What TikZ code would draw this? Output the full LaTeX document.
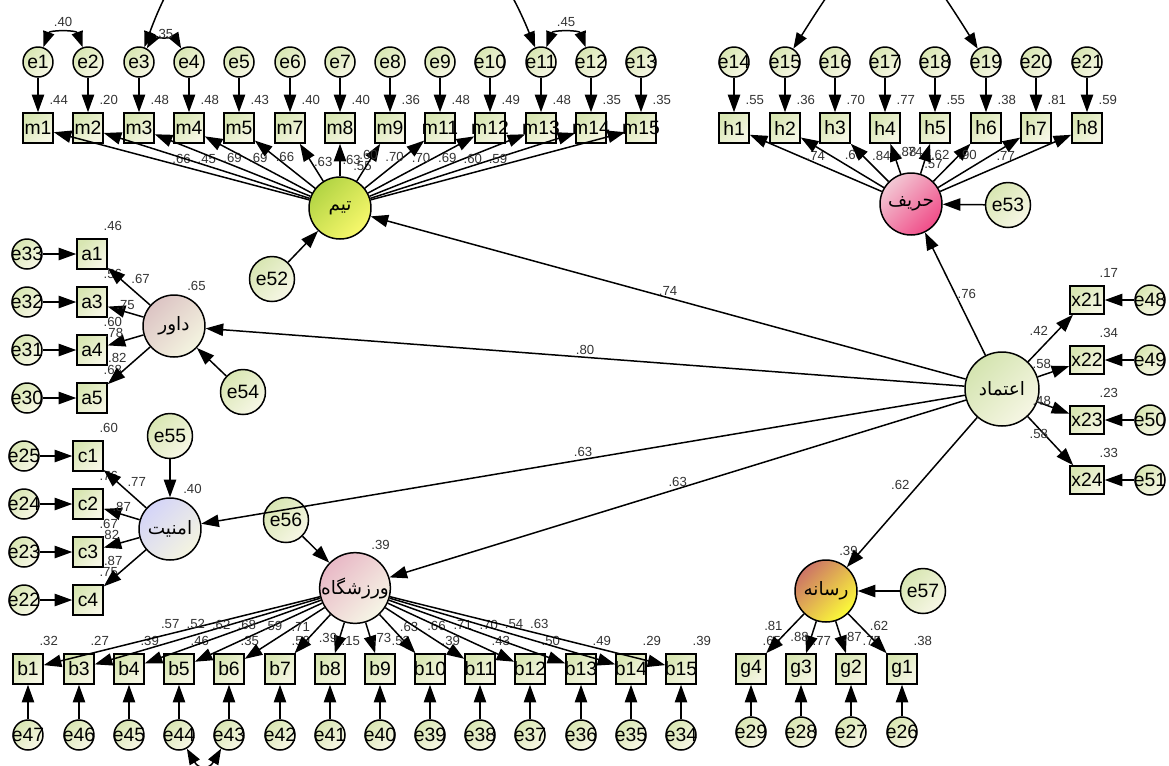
\documentclass[tikz,border=0pt]{standalone}
\usepackage{fontspec}
\setmainfont{Liberation Sans}
\newfontfamily\arabicfont[Script=Arabic]{DejaVu Sans}
\TeXXeTstate=1
\usetikzlibrary{arrows.meta}

\definecolor{obsa}{HTML}{D8E6B2}
\definecolor{obsb}{HTML}{F7F7E6}
\definecolor{teama}{HTML}{B2D444}
\definecolor{teamb}{HTML}{F8F86C}
\definecolor{rivala}{HTML}{F2C8D4}
\definecolor{rivalb}{HTML}{F04C88}
\definecolor{refa}{HTML}{DCC4C4}
\definecolor{refb}{HTML}{F4F4E0}
\definecolor{seca}{HTML}{D4D4F8}
\definecolor{secb}{HTML}{F4F4E0}
\definecolor{stada}{HTML}{E8B8C6}
\definecolor{stadb}{HTML}{F6F6E6}
\definecolor{mediaa}{HTML}{CC7466}
\definecolor{mediab}{HTML}{FCFC38}
\definecolor{trusta}{HTML}{D4E4B0}
\definecolor{trustb}{HTML}{F6F6E4}

\newcommand{\boxtxt}[1]{\makebox[0pt]{#1}}

\tikzset{
  obs/.style={rectangle, draw, line width=0.85pt, minimum width=0.6cm, minimum height=0.6cm,
    inner sep=0pt, top color=obsa, bottom color=obsb, shading angle=45},
  xobs/.style={obs, minimum width=0.68cm, minimum height=0.56cm},
  err/.style={circle, draw, line width=0.85pt, minimum size=0.6cm, inner sep=0pt,
    top color=obsa, bottom color=obsb, shading angle=45},
  bigerr/.style={err, minimum size=0.9cm},
  lat/.style={circle, draw, line width=0.85pt, minimum size=1.24cm, inner sep=0pt,
    font=\arabicfont\fontsize{10.5}{12}\selectfont},
  lbl/.style={font=\fontsize{7.5}{9}\selectfont, inner sep=1pt, text=black!80},
  arr/.style={-{Triangle[length=10pt,width=7pt]}, line width=0.85pt},
  cov/.style={{Triangle[length=9pt,width=6.5pt]}-{Triangle[length=9pt,width=6.5pt]}, line width=0.85pt},
}

\begin{document}
\begin{tikzpicture}[x=0.02cm, y=-0.02cm, font=\fontsize{11}{13}\selectfont]
      \useasboundingbox (0,0) rectangle (1169,765);
      \clip (0,0) rectangle (1169,765);

      % Define nodes
      \node[lat, top color=teama, bottom color=teamb, shading angle=45] (team) at (340,208) {\beginR تیم\endR};
      \node[lat, top color=rivala, bottom color=rivalb, shading angle=45] (rival) at (911,204) {\beginR حریف\endR};
      \node[lat, top color=refa, bottom color=refb, shading angle=45] (referee) at (174,326) {\beginR داور\endR};
      \node[lat, top color=seca, bottom color=secb, shading angle=45] (security) at (170,529) {\beginR امنیت\endR};
      \node[lat, top color=stada, bottom color=stadb, shading angle=45] (stadium) at (355,588) {\beginR ورزشگاه\endR};
      \node[lat, top color=mediaa, bottom color=mediab, shading angle=45] (media) at (826,591) {\beginR رسانه\endR};
      \node[lat, minimum size=1.48cm, top color=trusta, bottom color=trustb, shading angle=45] (trust) at (1002,389) {\beginR اعتماد\endR};

      \node[bigerr] (e52) at (272,279) {e52};
      \node[bigerr] (e53) at (1008,205) {e53};
      \node[bigerr] (e54) at (243,392) {e54};
      \node[bigerr] (e55) at (170,436) {e55};
      \node[bigerr] (e56) at (286,520) {e56};
      \node[bigerr] (e57) at (923,591) {e57};

      % team indicators
      \node[obs] (m1) at (38,128) {\boxtxt{m1}};
      \node[obs] (m2) at (88,128) {\boxtxt{m2}};
      \node[obs] (m3) at (139,128) {\boxtxt{m3}};
      \node[obs] (m4) at (189,128) {\boxtxt{m4}};
      \node[obs] (m5) at (239,128) {\boxtxt{m5}};
      \node[obs] (m7) at (290,128) {\boxtxt{m7}};
      \node[obs] (m8) at (340,128) {\boxtxt{m8}};
      \node[obs] (m9) at (390,128) {\boxtxt{m9}};
      \node[obs] (m11) at (440,128) {\boxtxt{m11}};
      \node[obs] (m12) at (490,128) {\boxtxt{m12}};
      \node[obs] (m13) at (541,128) {\boxtxt{m13}};
      \node[obs] (m14) at (591,128) {\boxtxt{m14}};
      \node[obs] (m15) at (641,128) {\boxtxt{m15}};
      \node[err] (e1) at (38,62) {\boxtxt{e1}};
      \node[err] (e2) at (88,62) {\boxtxt{e2}};
      \node[err] (e3) at (139,62) {\boxtxt{e3}};
      \node[err] (e4) at (189,62) {\boxtxt{e4}};
      \node[err] (e5) at (239,62) {\boxtxt{e5}};
      \node[err] (e6) at (290,62) {\boxtxt{e6}};
      \node[err] (e7) at (340,62) {\boxtxt{e7}};
      \node[err] (e8) at (390,62) {\boxtxt{e8}};
      \node[err] (e9) at (440,62) {\boxtxt{e9}};
      \node[err] (e10) at (490,62) {\boxtxt{e10}};
      \node[err] (e11) at (541,62) {\boxtxt{e11}};
      \node[err] (e12) at (591,62) {\boxtxt{e12}};
      \node[err] (e13) at (641,62) {\boxtxt{e13}};

      % rival indicators
      \node[obs] (h1) at (734,128) {\boxtxt{h1}};
      \node[obs] (h2) at (785,128) {\boxtxt{h2}};
      \node[obs] (h3) at (835,128) {\boxtxt{h3}};
      \node[obs] (h4) at (885,128) {\boxtxt{h4}};
      \node[obs] (h5) at (935,128) {\boxtxt{h5}};
      \node[obs] (h6) at (986,128) {\boxtxt{h6}};
      \node[obs] (h7) at (1036,128) {\boxtxt{h7}};
      \node[obs] (h8) at (1087,128) {\boxtxt{h8}};
      \node[err] (e14) at (734,62) {\boxtxt{e14}};
      \node[err] (e15) at (785,62) {\boxtxt{e15}};
      \node[err] (e16) at (835,62) {\boxtxt{e16}};
      \node[err] (e17) at (885,62) {\boxtxt{e17}};
      \node[err] (e18) at (935,62) {\boxtxt{e18}};
      \node[err] (e19) at (986,62) {\boxtxt{e19}};
      \node[err] (e20) at (1036,62) {\boxtxt{e20}};
      \node[err] (e21) at (1087,62) {\boxtxt{e21}};

      % referee indicators
      \node[obs] (a1) at (92,254) {\boxtxt{a1}};
      \node[obs] (a3) at (92,302) {\boxtxt{a3}};
      \node[obs] (a4) at (92,350) {\boxtxt{a4}};
      \node[obs] (a5) at (92,398) {\boxtxt{a5}};
      \node[err] (e33) at (27,254) {\boxtxt{e33}};
      \node[err] (e32) at (27,302) {\boxtxt{e32}};
      \node[err] (e31) at (27,350) {\boxtxt{e31}};
      \node[err] (e30) at (27,398) {\boxtxt{e30}};

      % security indicators
      \node[obs] (c1) at (88,456) {\boxtxt{c1}};
      \node[obs] (c2) at (88,504) {\boxtxt{c2}};
      \node[obs] (c3) at (88,552) {\boxtxt{c3}};
      \node[obs] (c4) at (88,600) {\boxtxt{c4}};
      \node[err] (e25) at (24,456) {\boxtxt{e25}};
      \node[err] (e24) at (24,504) {\boxtxt{e24}};
      \node[err] (e23) at (24,552) {\boxtxt{e23}};
      \node[err] (e22) at (24,600) {\boxtxt{e22}};

      % stadium indicators
      \node[obs] (b1) at (28,669) {\boxtxt{b1}};
      \node[obs] (b3) at (79,669) {\boxtxt{b3}};
      \node[obs] (b4) at (129,669) {\boxtxt{b4}};
      \node[obs] (b5) at (179,669) {\boxtxt{b5}};
      \node[obs] (b6) at (229,669) {\boxtxt{b6}};
      \node[obs] (b7) at (280,669) {\boxtxt{b7}};
      \node[obs] (b8) at (330,669) {\boxtxt{b8}};
      \node[obs] (b9) at (380,669) {\boxtxt{b9}};
      \node[obs] (b10) at (430,669) {\boxtxt{b10}};
      \node[obs] (b11) at (480,669) {\boxtxt{b11}};
      \node[obs] (b12) at (530,669) {\boxtxt{b12}};
      \node[obs] (b13) at (581,669) {\boxtxt{b13}};
      \node[obs] (b14) at (631,669) {\boxtxt{b14}};
      \node[obs] (b15) at (681,669) {\boxtxt{b15}};
      \node[err] (e47) at (28,735) {\boxtxt{e47}};
      \node[err] (e46) at (79,735) {\boxtxt{e46}};
      \node[err] (e45) at (129,735) {\boxtxt{e45}};
      \node[err] (e44) at (179,735) {\boxtxt{e44}};
      \node[err] (e43) at (229,735) {\boxtxt{e43}};
      \node[err] (e42) at (280,735) {\boxtxt{e42}};
      \node[err] (e41) at (330,735) {\boxtxt{e41}};
      \node[err] (e40) at (380,735) {\boxtxt{e40}};
      \node[err] (e39) at (430,735) {\boxtxt{e39}};
      \node[err] (e38) at (480,735) {\boxtxt{e38}};
      \node[err] (e37) at (530,735) {\boxtxt{e37}};
      \node[err] (e36) at (581,735) {\boxtxt{e36}};
      \node[err] (e35) at (631,735) {\boxtxt{e35}};
      \node[err] (e34) at (681,735) {\boxtxt{e34}};

      % media indicators
      \node[obs] (g4) at (751,669) {\boxtxt{g4}};
      \node[obs] (g3) at (801,669) {\boxtxt{g3}};
      \node[obs] (g2) at (851,669) {\boxtxt{g2}};
      \node[obs] (g1) at (902,669) {\boxtxt{g1}};
      \node[err] (e29) at (751,732) {\boxtxt{e29}};
      \node[err] (e28) at (801,732) {\boxtxt{e28}};
      \node[err] (e27) at (851,732) {\boxtxt{e27}};
      \node[err] (e26) at (902,732) {\boxtxt{e26}};

      % trust indicators
      \node[xobs] (x21) at (1087,300) {\boxtxt{x21}};
      \node[xobs] (x22) at (1087,360) {\boxtxt{x22}};
      \node[xobs] (x23) at (1087,420) {\boxtxt{x23}};
      \node[xobs] (x24) at (1087,480) {\boxtxt{x24}};
      \node[err] (e48) at (1150,300) {\boxtxt{e48}};
      \node[err] (e49) at (1150,360) {\boxtxt{e49}};
      \node[err] (e50) at (1150,420) {\boxtxt{e50}};
      \node[err] (e51) at (1150,480) {\boxtxt{e51}};

      % Squared multiple correlations
      \node[lbl] (q-team) at ([shift={(0,-20)}]team.north east) {.55};
      \node[lbl] (q-rival) at ([shift={(0,-18)}]rival.north east) {.57};
      \node[lbl] (q-referee) at ([shift={(0,-18)}]referee.north east) {.65};
      \node[lbl] (q-security) at ([shift={(0,-18)}]security.north east) {.40};
      \node[lbl] (q-stadium) at ([shift={(0,-18)}]stadium.north east) {.39};
      \node[lbl] (q-media) at ([shift={(0,-18)}]media.north east) {.39};
      \node[lbl] (q-m1) at ([shift={(5,-12)}]m1.north east) {.44};
      \node[lbl] (q-m2) at ([shift={(5,-12)}]m2.north east) {.20};
      \node[lbl] (q-m3) at ([shift={(5,-12)}]m3.north east) {.48};
      \node[lbl] (q-m4) at ([shift={(5,-12)}]m4.north east) {.48};
      \node[lbl] (q-m5) at ([shift={(5,-12)}]m5.north east) {.43};
      \node[lbl] (q-m7) at ([shift={(5,-12)}]m7.north east) {.40};
      \node[lbl] (q-m8) at ([shift={(5,-12)}]m8.north east) {.40};
      \node[lbl] (q-m9) at ([shift={(5,-12)}]m9.north east) {.36};
      \node[lbl] (q-m11) at ([shift={(5,-12)}]m11.north east) {.48};
      \node[lbl] (q-m12) at ([shift={(5,-12)}]m12.north east) {.49};
      \node[lbl] (q-m13) at ([shift={(5,-12)}]m13.north east) {.48};
      \node[lbl] (q-m14) at ([shift={(5,-12)}]m14.north east) {.35};
      \node[lbl] (q-m15) at ([shift={(5,-12)}]m15.north east) {.35};
      \node[lbl] (q-h1) at ([shift={(5,-12)}]h1.north east) {.55};
      \node[lbl] (q-h2) at ([shift={(5,-12)}]h2.north east) {.36};
      \node[lbl] (q-h3) at ([shift={(5,-12)}]h3.north east) {.70};
      \node[lbl] (q-h4) at ([shift={(5,-12)}]h4.north east) {.77};
      \node[lbl] (q-h5) at ([shift={(5,-12)}]h5.north east) {.55};
      \node[lbl] (q-h6) at ([shift={(5,-12)}]h6.north east) {.38};
      \node[lbl] (q-h7) at ([shift={(5,-12)}]h7.north east) {.81};
      \node[lbl] (q-h8) at ([shift={(5,-12)}]h8.north east) {.59};
      \node[lbl] (q-a1) at ([shift={(5,-12)}]a1.north east) {.46};
      \node[lbl] (q-a3) at ([shift={(5,-12)}]a3.north east) {.56};
      \node[lbl] (q-a4) at ([shift={(5,-12)}]a4.north east) {.60};
      \node[lbl] (q-a5) at ([shift={(5,-12)}]a5.north east) {.68};
      \node[lbl] (q-c1) at ([shift={(5,-12)}]c1.north east) {.60};
      \node[lbl] (q-c2) at ([shift={(5,-12)}]c2.north east) {.76};
      \node[lbl] (q-c3) at ([shift={(5,-12)}]c3.north east) {.67};
      \node[lbl] (q-c4) at ([shift={(5,-12)}]c4.north east) {.75};
      \node[lbl] (q-b1) at ([shift={(5,-12)}]b1.north east) {.32};
      \node[lbl] (q-b3) at ([shift={(5,-12)}]b3.north east) {.27};
      \node[lbl] (q-b4) at ([shift={(5,-12)}]b4.north east) {.39};
      \node[lbl] (q-b5) at ([shift={(5,-12)}]b5.north east) {.46};
      \node[lbl] (q-b6) at ([shift={(5,-12)}]b6.north east) {.35};
      \node[lbl] (q-b7) at ([shift={(5,-12)}]b7.north east) {.50};
      \node[lbl] (q-b8) at ([shift={(5,-12)}]b8.north east) {.15};
      \node[lbl] (q-b9) at ([shift={(5,-12)}]b9.north east) {.53};
      \node[lbl] (q-b10) at ([shift={(5,-12)}]b10.north east) {.39};
      \node[lbl] (q-b11) at ([shift={(5,-12)}]b11.north east) {.43};
      \node[lbl] (q-b12) at ([shift={(5,-12)}]b12.north east) {.50};
      \node[lbl] (q-b13) at ([shift={(5,-12)}]b13.north east) {.49};
      \node[lbl] (q-b14) at ([shift={(5,-12)}]b14.north east) {.29};
      \node[lbl] (q-b15) at ([shift={(5,-12)}]b15.north east) {.39};
      \node[lbl] (q-g4) at ([shift={(5,-12)}]g4.north east) {.65};
      \node[lbl] (q-g3) at ([shift={(5,-12)}]g3.north east) {.77};
      \node[lbl] (q-g2) at ([shift={(5,-12)}]g2.north east) {.75};
      \node[lbl] (q-g1) at ([shift={(5,-12)}]g1.north east) {.38};
      \node[lbl] (q-x21) at ([shift={(4,-12)}]x21.north east) {.17};
      \node[lbl] (q-x22) at ([shift={(4,-12)}]x22.north east) {.34};
      \node[lbl] (q-x23) at ([shift={(4,-12)}]x23.north east) {.23};
      \node[lbl] (q-x24) at ([shift={(4,-12)}]x24.north east) {.33};

      % Draw edges
      \draw[arr] (trust) -- (team) node[lbl, midway, above] {.74};
      \draw[arr] (trust) -- (referee) node[lbl, midway, above] {.80};
      \draw[arr] (trust) -- (security) node[lbl, midway, above] {.63};
      \draw[arr] (trust) -- (stadium) node[lbl, midway, above] {.63};
      \draw[arr] (trust) -- (rival) node[lbl, midway, right] {.76};
      \draw[arr] (trust) -- (media) node[lbl, midway, above left] {.62};
      \draw[arr] (e52) -- (team);
      \draw[arr] (e53) -- (rival);
      \draw[arr] (e54) -- (referee);
      \draw[arr] (e55) -- (security);
      \draw[arr] (e56) -- (stadium);
      \draw[arr] (e57) -- (media);

      \draw[arr] (team) -- (m1) node[lbl, midway, above] {.66};
      \draw[arr] (team) -- (m2) node[lbl, midway, above] {.45};
      \draw[arr] (team) -- (m3) node[lbl, midway, above] {.69};
      \draw[arr] (team) -- (m4) node[lbl, midway, above] {.69};
      \draw[arr] (team) -- (m5) node[lbl, midway, above] {.66};
      \draw[arr] (team) -- (m7) node[lbl, midway, right] {.63};
      \draw[arr] (team) -- (m8) node[lbl, midway, right] {.63};
      \draw[arr] (team) -- (m9) node[lbl, midway, above] {.60};
      \draw[arr] (team) -- (m11) node[lbl, midway, above] {.70};
      \draw[arr] (team) -- (m12) node[lbl, midway, above] {.70};
      \draw[arr] (team) -- (m13) node[lbl, midway, above] {.69};
      \draw[arr] (team) -- (m14) node[lbl, midway, above] {.60};
      \draw[arr] (team) -- (m15) node[lbl, midway, above] {.59};
      \draw[arr] (e1) -- (m1);
      \draw[arr] (e2) -- (m2);
      \draw[arr] (e3) -- (m3);
      \draw[arr] (e4) -- (m4);
      \draw[arr] (e5) -- (m5);
      \draw[arr] (e6) -- (m7);
      \draw[arr] (e7) -- (m8);
      \draw[arr] (e8) -- (m9);
      \draw[arr] (e9) -- (m11);
      \draw[arr] (e10) -- (m12);
      \draw[arr] (e11) -- (m13);
      \draw[arr] (e12) -- (m14);
      \draw[arr] (e13) -- (m15);

      \draw[arr] (rival) -- (h1) node[lbl, midway, above] {.74};
      \draw[arr] (rival) -- (h2) node[lbl, midway, above right] {.60};
      \draw[arr] (rival) -- (h3) node[lbl, midway, above right] {.84};
      \draw[arr] (rival) -- (h4) node[lbl, midway, above right] {.88};
      \draw[arr] (rival) -- (h5) node[lbl, midway, above left] {.74};
      \draw[arr] (rival) -- (h6) node[lbl, midway, above left] {.62};
      \draw[arr] (rival) -- (h7) node[lbl, midway, above left] {.90};
      \draw[arr] (rival) -- (h8) node[lbl, midway, above] {.77};
      \draw[arr] (e14) -- (h1);
      \draw[arr] (e15) -- (h2);
      \draw[arr] (e16) -- (h3);
      \draw[arr] (e17) -- (h4);
      \draw[arr] (e18) -- (h5);
      \draw[arr] (e19) -- (h6);
      \draw[arr] (e20) -- (h7);
      \draw[arr] (e21) -- (h8);

      \draw[arr] (referee) -- (a1) node[lbl, midway, above right] {.67};
      \draw[arr] (referee) -- (a3) node[lbl, midway, above] {.75};
      \draw[arr] (referee) -- (a4) node[lbl, midway, above left] {.78};
      \draw[arr] (referee) -- (a5) node[lbl, midway, above left] {.82};
      \draw[arr] (e33) -- (a1);
      \draw[arr] (e32) -- (a3);
      \draw[arr] (e31) -- (a4);
      \draw[arr] (e30) -- (a5);

      \draw[arr] (security) -- (c1) node[lbl, midway, above right] {.77};
      \draw[arr] (security) -- (c2) node[lbl, midway, above] {.87};
      \draw[arr] (security) -- (c3) node[lbl, midway, above left] {.82};
      \draw[arr] (security) -- (c4) node[lbl, midway, above left] {.87};
      \draw[arr] (e25) -- (c1);
      \draw[arr] (e24) -- (c2);
      \draw[arr] (e23) -- (c3);
      \draw[arr] (e22) -- (c4);

      \draw[arr] (stadium) -- (b1) node[lbl, midway, above left] {.57};
      \draw[arr] (stadium) -- (b3) node[lbl, midway, above left] {.52};
      \draw[arr] (stadium) -- (b4) node[lbl, midway, above left] {.62};
      \draw[arr] (stadium) -- (b5) node[lbl, midway, above left] {.68};
      \draw[arr] (stadium) -- (b6) node[lbl, midway, above left] {.59};
      \draw[arr] (stadium) -- (b7) node[lbl, midway, above left] {.71};
      \draw[arr] (stadium) -- (b8) node[lbl, midway, left] {.39};
      \draw[arr] (stadium) -- (b9) node[lbl, midway, right] {.73};
      \draw[arr] (stadium) -- (b10) node[lbl, midway, above right] {.63};
      \draw[arr] (stadium) -- (b11) node[lbl, midway, above right] {.66};
      \draw[arr] (stadium) -- (b12) node[lbl, midway, above right] {.71};
      \draw[arr] (stadium) -- (b13) node[lbl, midway, above right] {.70};
      \draw[arr] (stadium) -- (b14) node[lbl, midway, above right] {.54};
      \draw[arr] (stadium) -- (b15) node[lbl, midway, above right] {.63};
      \draw[arr] (e47) -- (b1);
      \draw[arr] (e46) -- (b3);
      \draw[arr] (e45) -- (b4);
      \draw[arr] (e44) -- (b5);
      \draw[arr] (e43) -- (b6);
      \draw[arr] (e42) -- (b7);
      \draw[arr] (e41) -- (b8);
      \draw[arr] (e40) -- (b9);
      \draw[arr] (e39) -- (b10);
      \draw[arr] (e38) -- (b11);
      \draw[arr] (e37) -- (b12);
      \draw[arr] (e36) -- (b13);
      \draw[arr] (e35) -- (b14);
      \draw[arr] (e34) -- (b15);

      \draw[arr] (media) -- (g4) node[lbl, midway, above left] {.81};
      \draw[arr] (media) -- (g3) node[lbl, midway, left] {.88};
      \draw[arr] (media) -- (g2) node[lbl, midway, right] {.87};
      \draw[arr] (media) -- (g1) node[lbl, midway, above right] {.62};
      \draw[arr] (e29) -- (g4);
      \draw[arr] (e28) -- (g3);
      \draw[arr] (e27) -- (g2);
      \draw[arr] (e26) -- (g1);

      \draw[arr] (trust) -- (x21) node[lbl, midway, above left] {.42};
      \draw[arr] (trust) -- (x22) node[lbl, midway, above left] {.58};
      \draw[arr] (trust) -- (x23) node[lbl, midway, above left] {.48};
      \draw[arr] (trust) -- (x24) node[lbl, midway, above left] {.58};
      \draw[arr] (e48) -- (x21);
      \draw[arr] (e49) -- (x22);
      \draw[arr] (e50) -- (x23);
      \draw[arr] (e51) -- (x24);

      % Covariances
      \draw[cov] (e1) to[out=70, in=110, looseness=1.2] node[lbl, midway, above=3pt] {.40} (e2);
      \draw[cov] (e3) to[out=60, in=120, looseness=0.8] node[lbl, midway, above] {.35} (e4);
      \draw[cov] (e11) to[out=70, in=110, looseness=1.2] node[lbl, midway, above=3pt] {.45} (e12);
      \draw[cov] (e3) to[out=70, in=112, looseness=1.6] (e11);
      \draw[cov] (e15) to[out=58, in=122, looseness=2.2] (e19);
      \draw[cov] (e44) to[out=-60, in=-120, looseness=1.8] (e43);
    \end{tikzpicture}
\end{document}
